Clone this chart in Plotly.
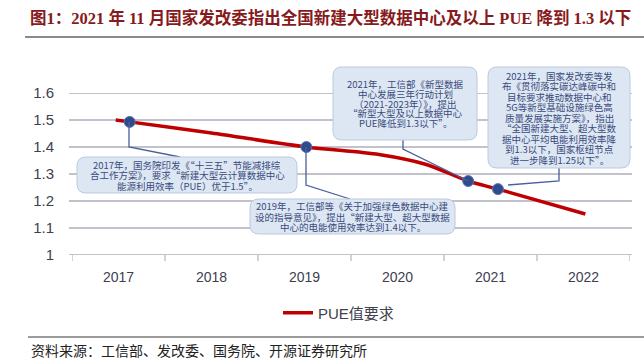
import plotly.graph_objects as go

# ---------------- data ----------------
years = [2017, 2018, 2019, 2020, 2021, 2022]
year_labels = ["2017", "2018", "2019", "2020", "2021", "2022"]
y_ticks = [1.0, 1.1, 1.2, 1.3, 1.4, 1.5, 1.6]
y_tick_labels = ["1", "1.1", "1.2", "1.3", "1.4", "1.5", "1.6"]

# PUE requirement curve
curve_x = [2016.97, 2017.12, 2018.0, 2019.02, 2019.8, 2020.3, 2020.76, 2021.08, 2022.02]
curve_y = [1.500, 1.493, 1.452, 1.400, 1.372, 1.336, 1.274, 1.244, 1.152]

# policy points
event_x = [2017.12, 2019.02, 2020.76, 2021.08]
event_y = [1.493, 1.400, 1.274, 1.244]

series_name = "PUE值要求"
title_text = "图1：2021 年 11 月国家发改委指出全国新建大型数据中心及以上 PUE 降到 1.3 以下"
source_text = "资料来源：工信部、发改委、国务院、开源证券研究所"

box_texts = [
    ["2017年，国务院印发《“十三五”节能减排综",
     "合工作方案》，要求“新建大型云计算数据中心",
     "能源利用效率（PUE）优于1.5”。"],
    ["2019年，工信部等《关于加强绿色数据中心建",
     "设的指导意见》，提出“新建大型、超大型数据",
     "中心的电能使用效率达到1.4以下。"],
    ["2021年，工信部《新型数据",
     "中心发展三年行动计划",
     "（2021-2023年）》，提出",
     "“新型大型及以上数据中心",
     "PUE降低到1.3以下”。"],
    ["2021年，国家发改委等发",
     "布《贯彻落实碳达峰碳中和",
     "目标要求推动数据中心和",
     "5G等新型基础设施绿色高",
     "质量发展实施方案》，指出",
     "“全国新建大型、超大型数",
     "据中心平均电能利用效率降",
     "到1.3以下，国家枢纽节点",
     "进一步降到1.25以下”。"],
]

# ---------------- layout geometry (pixels) ----------------
W, H = 644, 363
PL, PR, PT, PB = 72, 630, 93, 255


def pxx(px):
    return (px - PL) / (PR - PL)


def pxy(py):
    return (PB - py) / (PB - PT)


def P(px, py):
    return f"{pxx(px):.5f},{pxy(py):.5f}"


def rounded(x0, y0, x1, y1, r):
    return (f"M {P(x0 + r, y0)} L {P(x1 - r, y0)} Q {P(x1, y0)} {P(x1, y0 + r)} "
            f"L {P(x1, y1 - r)} Q {P(x1, y1)} {P(x1 - r, y1)} "
            f"L {P(x0 + r, y1)} Q {P(x0, y1)} {P(x0, y1 - r)} "
            f"L {P(x0, y0 + r)} Q {P(x0, y0)} {P(x0 + r, y0)} Z")


def band(x0, x1, py, h):
    # thin filled rectangle used as a rule line (pixel geometry)
    return dict(type="rect", xref="paper", yref="paper",
                x0=pxx(x0), x1=pxx(x1), y0=pxy(py - h / 2), y1=pxy(py + h / 2),
                line=dict(width=0), layer="below")


fig = go.Figure()

fig.add_trace(go.Scatter(
    x=curve_x, y=curve_y, mode="lines", name=series_name,
    line=dict(color="#c00000", width=3.5, shape="spline", smoothing=0.8),
))
fig.add_trace(go.Scatter(
    x=event_x, y=event_y, mode="markers", showlegend=False,
    marker=dict(size=11, color="#2f4b8e", line=dict(color="#5b76b3", width=1)),
))

shapes = []
annotations = []

GRID = "#c2c2cc"

# horizontal grid rules as thin filled bands at each y tick (data y)
for v in y_ticks:
    shapes.append(dict(type="rect", xref="paper", yref="y",
                       x0=pxx(69), x1=pxx(632), y0=v - 0.0040, y1=v + 0.0040,
                       fillcolor=GRID, line=dict(width=0), layer="below"))

# category boundary tick marks below the x axis (thin filled bands)
for b in [y - 0.5 for y in years] + [years[-1] + 0.5]:
    shapes.append(dict(type="rect", xref="x", yref="paper",
                       x0=b - 0.008, x1=b + 0.008, y0=0, y1=-6 / (PB - PT),
                       fillcolor=GRID, line=dict(width=0), layer="below"))

# connectors
conn_color = "#4a5f9e"
connectors = [
    [(129, 122), (129, 147), (180, 157)],
    [(306, 147), (306, 185), (350, 199)],
    [(403, 140), (403, 149), (468, 181)],
    [(559, 168), (559, 181), (508, 185)],
]
for pts in connectors:
    path = "M " + " L ".join(P(a, b) for a, b in pts)
    shapes.append(dict(type="path", xref="paper", yref="paper", path=path,
                       line=dict(color=conn_color, width=1.3), layer="above"))

# boxes: x0, y0, x1, y1, line spacing
boxes = [
    (77, 157, 297, 193, 10.5),
    (250, 199, 455, 234, 10.5),
    (333, 67, 477, 140, 9.7),
    (488, 67, 630, 168, 10.5),
]
for (x0, y0, x1, y1, sp), lines in zip(boxes, box_texts):
    shapes.append(dict(type="path", xref="paper", yref="paper",
                       path=rounded(x0, y0, x1, y1, 9),
                       fillcolor="#dde7f3", line=dict(color="#bccadf", width=1),
                       layer="above"))
    cx = (x0 + x1) / 2
    cy = (y0 + y1) / 2
    n = len(lines)
    for i, t in enumerate(lines):
        ly = cy + (i - (n - 1) / 2) * sp
        annotations.append(dict(
            text=t, x=pxx(cx), y=pxy(ly), xref="paper", yref="paper",
            xanchor="center", yanchor="middle", showarrow=False,
            font=dict(size=9.5, color="#3a4a7c",
                      family="Noto Sans CJK SC, Arial, sans-serif")))

# title + rules + source
annotations.append(dict(
    text=f"<b>{title_text}</b>", x=pxx(28), y=pxy(18), xref="paper", yref="paper",
    xanchor="left", yanchor="middle", showarrow=False,
    font=dict(size=16.5, color="#861a1c",
              family="Liberation Serif, Noto Sans CJK SC, serif")))
r1 = band(25, 644, 37, 2.2)
r1["fillcolor"] = "#8a8a8a"
shapes.append(r1)
r2 = band(28, 644, 337, 1.6)
r2["fillcolor"] = "#7a7a7a"
shapes.append(r2)
annotations.append(dict(
    text=source_text, x=pxx(29), y=pxy(350), xref="paper", yref="paper",
    xanchor="left", yanchor="middle", showarrow=False,
    font=dict(size=14, color="#222222", family="Noto Sans CJK SC, serif")))

fig.update_layout(
    width=W, height=H,
    margin=dict(l=PL, r=W - PR, t=PT, b=H - PB, pad=0),
    plot_bgcolor="rgba(0,0,0,0)", paper_bgcolor="white",
    shapes=shapes, annotations=annotations,
    showlegend=True,
    legend=dict(orientation="h", x=pxx(278), y=pxy(313), xanchor="left",
                yanchor="middle", font=dict(size=15, color="#404050",
                                            family="Arial, Noto Sans CJK SC"),
                bgcolor="rgba(0,0,0,0)"),
    xaxis=dict(
        range=[2016.5, 2022.5], tickmode="array", tickvals=years, ticktext=year_labels,
        showgrid=False, zeroline=False, showline=False,
        ticks="outside", ticklen=9, tickcolor="rgba(255,255,255,0)",
        tickfont=dict(size=14, color="#404050", family="Arial"),
        fixedrange=True,
    ),
    yaxis=dict(
        range=[1.0, 1.6], tickmode="array", tickvals=y_ticks, ticktext=y_tick_labels,
        showgrid=False, zeroline=False, showline=False,
        ticks="outside", ticklen=14, tickcolor="rgba(255,255,255,0)",
        tickfont=dict(size=15, color="#404050", family="Arial"),
        fixedrange=True,
    ),
)

fig.write_html("out.html", config={"displayModeBar": False},
               post_script="document.body.style.margin='0';document.body.style.overflow='hidden';")
